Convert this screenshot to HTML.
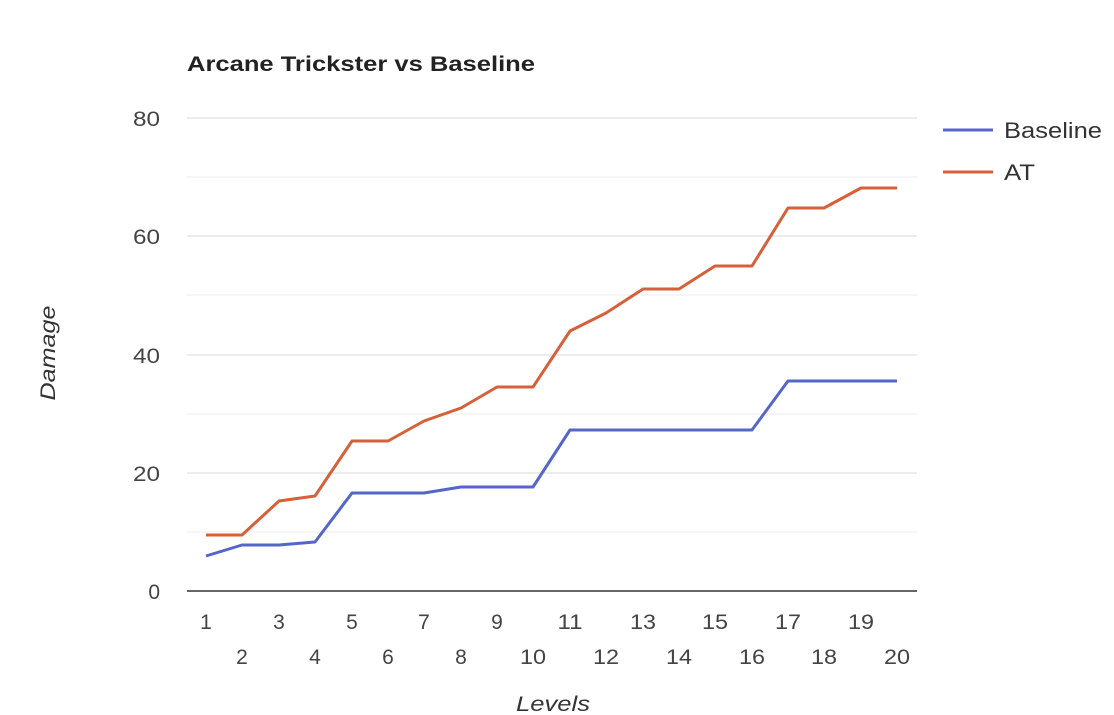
<!DOCTYPE html>
<html><head><meta charset="utf-8"><style>
html,body{margin:0;padding:0;background:#fff;}
svg{display:block;font-family:"Liberation Sans",Arial,sans-serif;}
</style></head><body>
<svg width="1114" height="715" viewBox="0 0 1114 715">
<rect width="1114" height="715" fill="#fff"/>
<text x="187" y="71" font-size="21" font-weight="bold" fill="#222" textLength="348" lengthAdjust="spacingAndGlyphs">Arcane Trickster vs Baseline</text>
<g stroke="#d9d9d9" stroke-width="1">
<line x1="187" x2="917" y1="118" y2="118"/><line x1="187" x2="917" y1="177" y2="177" stroke="#ececec"/>
<line x1="187" x2="917" y1="236" y2="236"/><line x1="187" x2="917" y1="295" y2="295" stroke="#ececec"/>
<line x1="187" x2="917" y1="355" y2="355"/><line x1="187" x2="917" y1="414" y2="414" stroke="#ececec"/>
<line x1="187" x2="917" y1="473" y2="473"/><line x1="187" x2="917" y1="532" y2="532" stroke="#ececec"/>
</g>
<line x1="187" x2="917" y1="591" y2="591" stroke="#333" stroke-width="1.5"/>
<g font-size="21" fill="#444" text-anchor="end">
<text x="160" y="126" textLength="27" lengthAdjust="spacingAndGlyphs">80</text><text x="160" y="244" textLength="27" lengthAdjust="spacingAndGlyphs">60</text><text x="160" y="363" textLength="27" lengthAdjust="spacingAndGlyphs">40</text><text x="160" y="481" textLength="27" lengthAdjust="spacingAndGlyphs">20</text><text x="160" y="599">0</text>
</g>
<text transform="translate(55,353) rotate(-90)" font-size="21" font-style="italic" fill="#333" text-anchor="middle" textLength="95" lengthAdjust="spacingAndGlyphs">Damage</text>
<text x="553" y="711" font-size="21" font-style="italic" fill="#333" text-anchor="middle" textLength="74" lengthAdjust="spacingAndGlyphs">Levels</text>
<g font-size="21" fill="#444" text-anchor="middle">
<text x="206" y="629">1</text><text x="279" y="629">3</text><text x="352" y="629">5</text><text x="424" y="629">7</text><text x="497" y="629">9</text>
<text x="570" y="629" textLength="25" lengthAdjust="spacingAndGlyphs">11</text><text x="643" y="629" textLength="26" lengthAdjust="spacingAndGlyphs">13</text><text x="715" y="629" textLength="26" lengthAdjust="spacingAndGlyphs">15</text><text x="788" y="629" textLength="26" lengthAdjust="spacingAndGlyphs">17</text><text x="861" y="629" textLength="26" lengthAdjust="spacingAndGlyphs">19</text>
<text x="242" y="664">2</text><text x="315" y="664">4</text><text x="388" y="664">6</text><text x="461" y="664">8</text>
<text x="533" y="664" textLength="26" lengthAdjust="spacingAndGlyphs">10</text><text x="606" y="664" textLength="26" lengthAdjust="spacingAndGlyphs">12</text><text x="679" y="664" textLength="26" lengthAdjust="spacingAndGlyphs">14</text><text x="752" y="664" textLength="26" lengthAdjust="spacingAndGlyphs">16</text><text x="824" y="664" textLength="26" lengthAdjust="spacingAndGlyphs">18</text><text x="897" y="664" textLength="26" lengthAdjust="spacingAndGlyphs">20</text>
</g>
<polyline fill="none" stroke="#5467c9" stroke-width="3" stroke-linejoin="round" points="206,556 242,545 279,545 315,542 352,493 388,493 424,493 461,487 497,487 533,487 570,430 606,430 643,430 679,430 715,430 752,430 788,381 824,381 861,381 897,381"/>
<polyline fill="none" stroke="#d6603a" stroke-width="3" stroke-linejoin="round" points="206,535 242,535 279,501 315,496 352,441 388,441 424,421 461,408 497,387 533,387 570,331 606,313 643,289 679,289 715,266 752,266 788,208 824,208 861,188 897,188"/>
<line x1="943" x2="993" y1="130" y2="130" stroke="#5467c9" stroke-width="3"/>
<text x="1004" y="138" font-size="22" fill="#333" textLength="98" lengthAdjust="spacingAndGlyphs">Baseline</text>
<line x1="943" x2="993" y1="172" y2="172" stroke="#d6603a" stroke-width="3"/>
<text x="1004" y="180" font-size="22" fill="#333" textLength="31" lengthAdjust="spacingAndGlyphs">AT</text>
</svg>
</body></html>
